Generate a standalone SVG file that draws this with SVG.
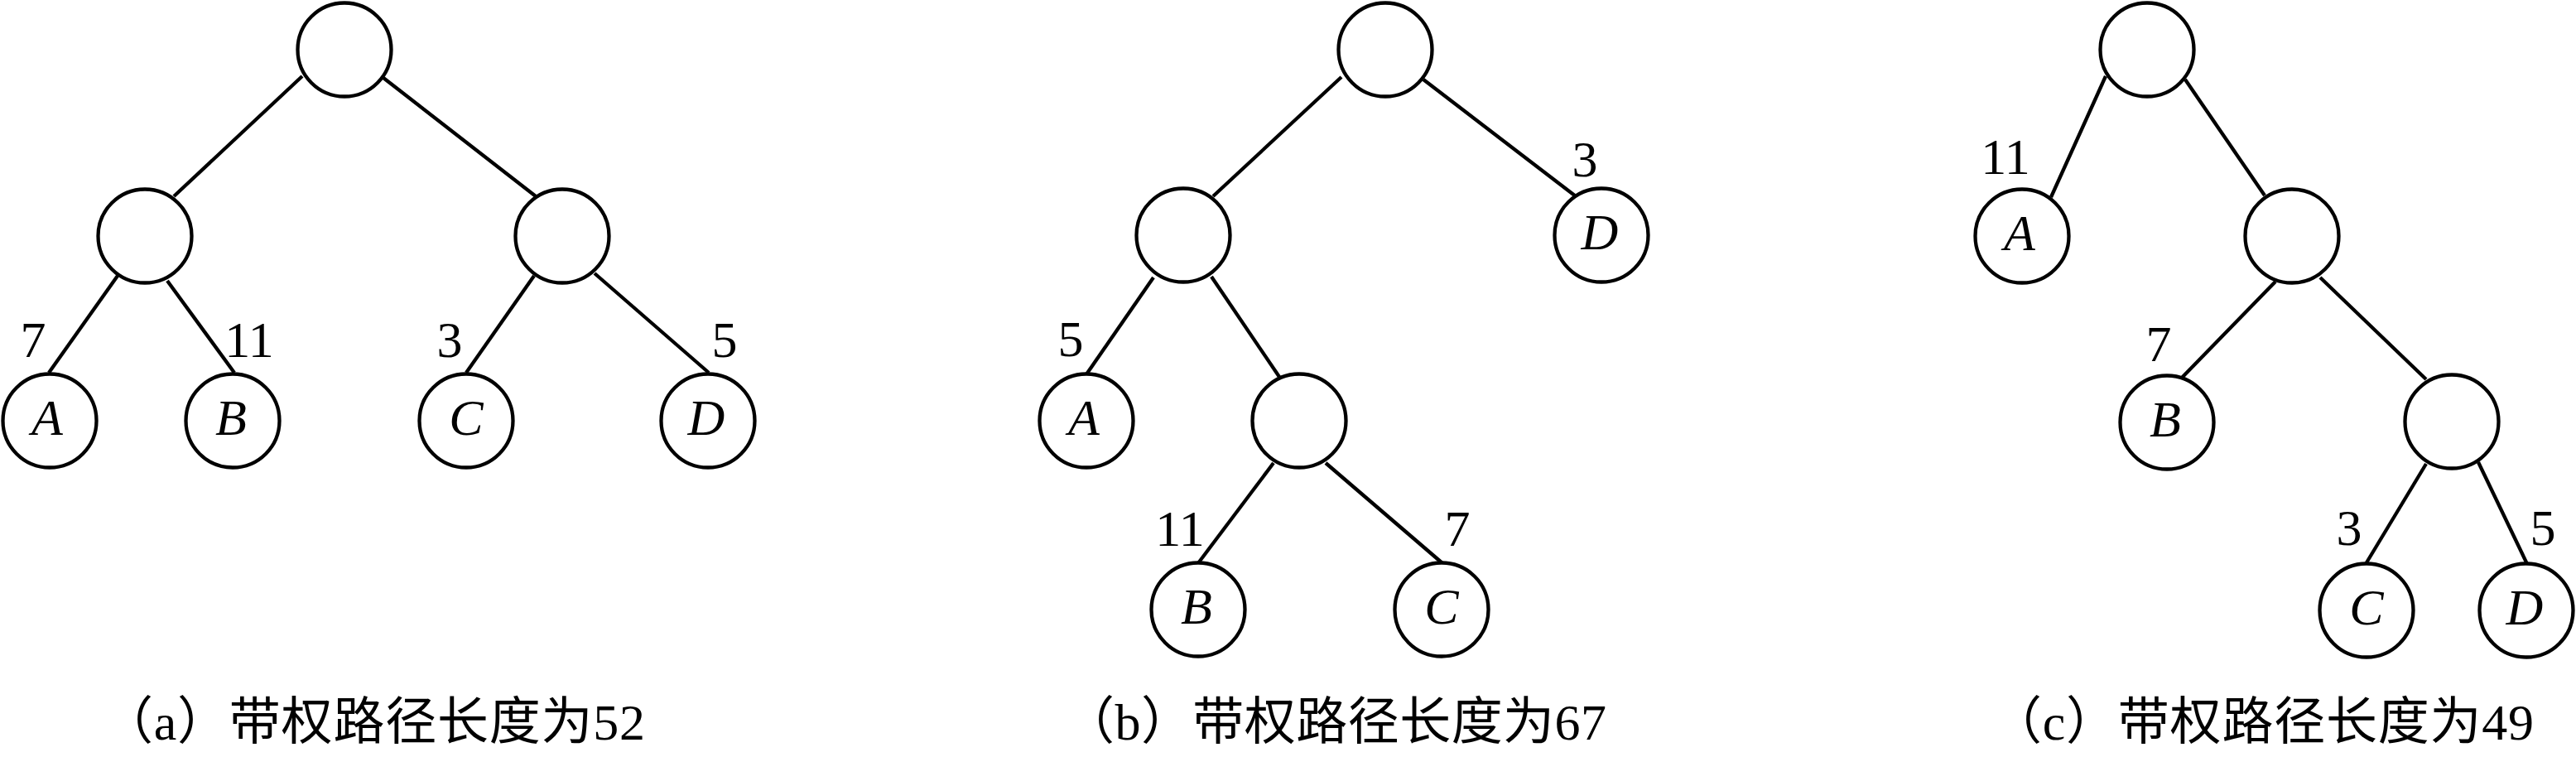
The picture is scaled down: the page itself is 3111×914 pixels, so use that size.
<svg xmlns="http://www.w3.org/2000/svg" width="3111" height="914" viewBox="0 0 3111 914">
<style>
.n{fill:#fff;stroke:#000;stroke-width:4.3}
.e line{stroke:#000;stroke-width:4.3;stroke-linecap:butt}
.t{font-family:"Liberation Serif","Times New Roman",serif;font-size:62px;fill:#000}
.v{font-family:"Liberation Serif","Times New Roman",serif;font-style:italic;font-size:62px;text-anchor:middle;fill:#000}
.w{text-anchor:middle}
.cap{font-family:"Noto Sans CJK SC","Liberation Serif",sans-serif;font-size:62px;fill:#000}
.lat{font-family:"Liberation Serif","Times New Roman",serif}
</style>
<rect width="3111" height="914" fill="#fff"/>
<g id="connectors" class="e">
<line x1="365" y1="92" x2="210" y2="237"/>
<line x1="463" y1="94" x2="647" y2="237"/>
<line x1="142" y1="333" x2="59" y2="450"/>
<line x1="202" y1="339" x2="283" y2="450"/>
<line x1="645" y1="333" x2="563" y2="450"/>
<line x1="718" y1="330" x2="856" y2="450"/>
<line x1="1620" y1="93" x2="1465" y2="237"/>
<line x1="1719" y1="96" x2="1903" y2="237"/>
<line x1="1393" y1="335" x2="1312" y2="452"/>
<line x1="1463" y1="334" x2="1545" y2="455"/>
<line x1="1538" y1="559" x2="1447" y2="680"/>
<line x1="1601" y1="559" x2="1742" y2="680"/>
<line x1="2543" y1="92" x2="2477" y2="238"/>
<line x1="2639" y1="96" x2="2735" y2="236"/>
<line x1="2748" y1="340" x2="2635" y2="456"/>
<line x1="2802" y1="335" x2="2930" y2="458"/>
<line x1="2930" y1="560" x2="2857" y2="681"/>
<line x1="2993" y1="558" x2="3052" y2="681"/>
</g>
<g id="weights" class="t w">
<text x="40" y="431">7</text>
<text x="301" y="431">11</text>
<text x="543" y="431">3</text>
<text x="875" y="431">5</text>
<text x="1914" y="213">3</text>
<text x="1293" y="430">5</text>
<text x="1425" y="659">11</text>
<text x="1760" y="659">7</text>
<text x="2422" y="210">11</text>
<text x="2607" y="436">7</text>
<text x="2837" y="658">3</text>
<text x="3071" y="658">5</text>
</g>
<g id="a-root"><circle class="n" cx="416" cy="60" r="56.5"/></g>
<g id="a-l"><circle class="n" cx="175" cy="285" r="56.5"/></g>
<g id="a-r"><circle class="n" cx="679" cy="285" r="56.5"/></g>
<g id="a-A"><circle class="n" cx="60" cy="508" r="56.5"/><text class="v" x="57" y="525">A</text></g>
<g id="a-B"><circle class="n" cx="281" cy="508" r="56.5"/><text class="v" x="279" y="525">B</text></g>
<g id="a-C"><circle class="n" cx="563" cy="508" r="56.5"/><text class="v" x="563" y="525">C</text></g>
<g id="a-D"><circle class="n" cx="855" cy="508" r="56.5"/><text class="v" x="853" y="525">D</text></g>

<g id="b-root"><circle class="n" cx="1673" cy="60" r="56.5"/></g>
<g id="b-l"><circle class="n" cx="1429" cy="284" r="56.5"/></g>
<g id="b-D"><circle class="n" cx="1934" cy="284" r="56.5"/><text class="v" x="1932" y="301">D</text></g>
<g id="b-A"><circle class="n" cx="1312" cy="508" r="56.5"/><text class="v" x="1309" y="525">A</text></g>
<g id="b-m"><circle class="n" cx="1569" cy="508" r="56.5"/></g>
<g id="b-B"><circle class="n" cx="1447" cy="736" r="56.5"/><text class="v" x="1445" y="753">B</text></g>
<g id="b-C"><circle class="n" cx="1741" cy="736" r="56.5"/><text class="v" x="1741" y="753">C</text></g>

<g id="c-root"><circle class="n" cx="2593" cy="60" r="56.5"/></g>
<g id="c-A"><circle class="n" cx="2442" cy="285" r="56.5"/><text class="v" x="2439" y="302">A</text></g>
<g id="c-m1"><circle class="n" cx="2768" cy="285" r="56.5"/></g>
<g id="c-B"><circle class="n" cx="2617" cy="510" r="56.5"/><text class="v" x="2615" y="527">B</text></g>
<g id="c-m2"><circle class="n" cx="2961" cy="509" r="56.5"/></g>
<g id="c-C"><circle class="n" cx="2858" cy="737" r="56.5"/><text class="v" x="2858" y="754">C</text></g>
<g id="c-D"><circle class="n" cx="3051" cy="737" r="56.5"/><text class="v" x="3049" y="754">D</text></g>

<g id="captions" class="cap">
<text x="123" y="893" textLength="656" lengthAdjust="spacing">（<tspan class="lat">a</tspan>）带权路径长度为<tspan class="lat">52</tspan></text>
<text x="1284" y="893" textLength="656" lengthAdjust="spacing">（<tspan class="lat">b</tspan>）带权路径长度为<tspan class="lat">67</tspan></text>
<text x="2404" y="893" textLength="656" lengthAdjust="spacing">（<tspan class="lat">c</tspan>）带权路径长度为<tspan class="lat">49</tspan></text>
</g>
</svg>
